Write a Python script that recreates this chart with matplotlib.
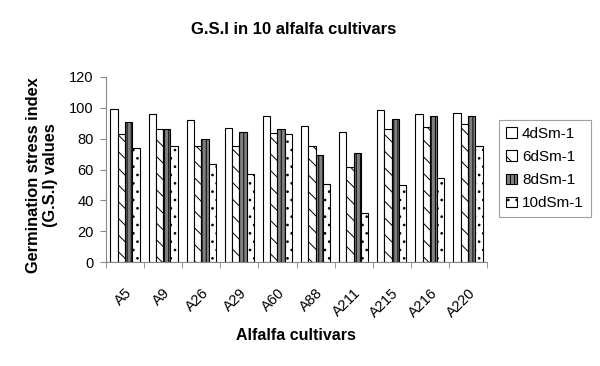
import matplotlib.pyplot as plt
import numpy as np

plt.rcParams["font.family"] = ["Liberation Sans", "DejaVu Sans"]
plt.rcParams["hatch.linewidth"] = 0.7

cultivars = ["A5", "A9", "A26", "A29", "A60", "A88", "A211", "A215", "A216", "A220"]
gsi_4 = [99.5, 96, 92, 87, 94.5, 88, 84.5, 98.5, 96, 96.5]
gsi_6 = [83, 86, 75, 75.5, 83.5, 75.5, 61.5, 86, 87.5, 89.5]
gsi_8 = [90.5, 86.5, 80, 84.5, 86.5, 69.5, 71, 92.5, 94.5, 94.5]
gsi_10 = [74, 75.5, 63.5, 57, 83, 50.5, 31.5, 50, 54.5, 75.5]
series = ["4dSm-1", "6dSm-1", "8dSm-1", "10dSm-1"]

fig = plt.figure(figsize=(6, 3.66), dpi=100)
ax = fig.add_axes([106 / 600, 1 - 262 / 366, 381 / 600, 185 / 366])

x = np.arange(len(cultivars))
w = 0.192
styles = [
    dict(facecolor="white", hatch=None),
    dict(facecolor="white", hatch="\\\\"),
    dict(facecolor="#808080", hatch="||||"),
    dict(facecolor="white", hatch=".."),
]
for i, (vals, st) in enumerate(zip([gsi_4, gsi_6, gsi_8, gsi_10], styles)):
    ax.bar(x - 1.5 * w + i * w, vals, width=w, edgecolor="black", linewidth=0.8,
           label=series[i], **st)

ax.set_xlim(-0.5, len(cultivars) - 0.5)
ax.set_ylim(0, 120)
ax.set_yticks(range(0, 121, 20))
ax.set_xticks(x)
ax.set_xticklabels(cultivars, rotation=45, ha="right", rotation_mode="anchor", fontsize=10.5)
ax.set_xticks(np.arange(-0.5, len(cultivars)), minor=True)
ax.tick_params(axis="x", which="major", length=0, pad=17)
ax.tick_params(axis="x", which="minor", length=4, color="#888888", direction="out")
ax.tick_params(axis="y", length=4, color="#888888", labelsize=10.5, pad=5)
for s in ["top", "right"]:
    ax.spines[s].set_visible(False)
for s in ["left", "bottom"]:
    ax.spines[s].set_color("#888888")

fig.text(0.49, 1 - 29 / 366, "G.S.I in 10 alfalfa cultivars", ha="center", va="center",
         fontsize=12, fontweight="bold")
fig.text(296 / 600, 1 - 335 / 366, "Alfalfa cultivars", ha="center", va="center",
         fontsize=11.5, fontweight="bold")
fig.text(42 / 600, 1 - 175 / 366, "Germination stress index\n(G.S.I) values", ha="center",
         va="center", rotation=90, fontsize=11.8, fontweight="bold", linespacing=1.15)

leg = ax.legend(loc="upper left", bbox_to_anchor=(499 / 600, 1 - 120 / 366),
                bbox_transform=fig.transFigure, fontsize=11, frameon=True, fancybox=False,
                edgecolor="#888888", handlelength=0.7, handleheight=0.7,
                handletextpad=0.35, labelspacing=0.6, borderpad=0.45, borderaxespad=0)
leg.get_frame().set_linewidth(0.8)

fig.savefig("out.png", dpi=100)
